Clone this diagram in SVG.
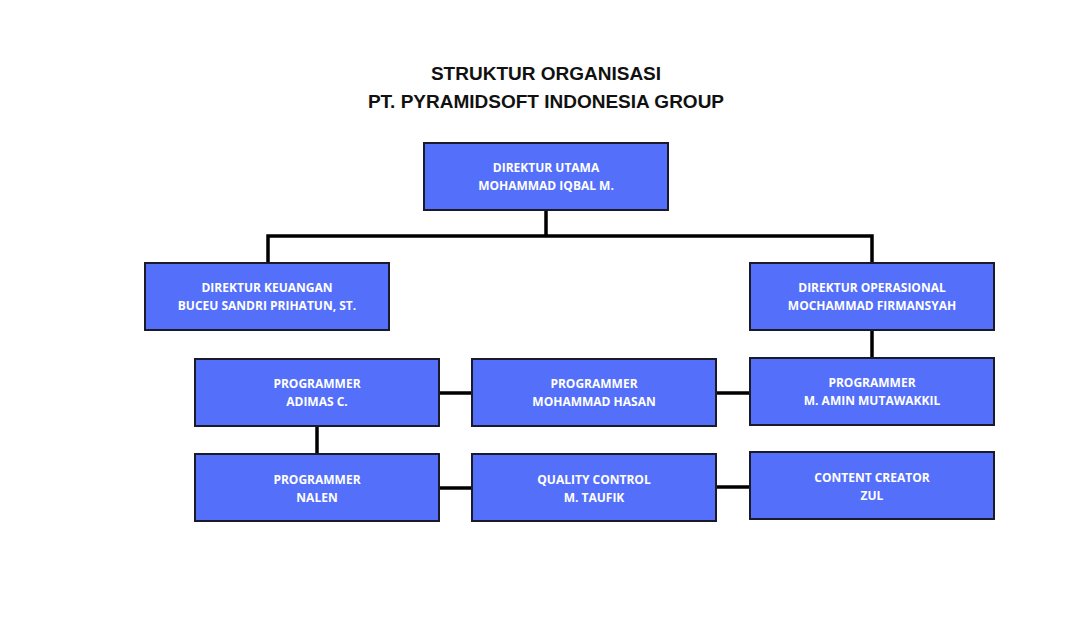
<svg xmlns="http://www.w3.org/2000/svg" width="1092" height="642" viewBox="0 0 1092 642">
<style>
.box{fill:#5470fb;stroke:#1a1a2a;stroke-width:2}
.t{font-family:"Open Sans","Liberation Sans",sans-serif;font-weight:bold;font-size:12px;fill:#fff;text-anchor:middle}
.title{font-family:"Liberation Sans",Arial,sans-serif;font-weight:bold;font-size:19px;fill:#111;text-anchor:middle}
.c{stroke:#000;stroke-width:3.5;fill:none}
</style>
<rect width="1092" height="642" fill="#fff"/>
<text class="title" x="546" y="80">STRUKTUR ORGANISASI</text>
<text class="title" x="546" y="108">PT. PYRAMIDSOFT INDONESIA GROUP</text>
<g id="connectors">
<path class="c" d="M546 210V236M268 263V236H872V263"/>
<path class="c" d="M872 330V358"/>
<path class="c" d="M317 426V454"/>
<path class="c" d="M439 393H472M716 393H750"/>
<path class="c" d="M439 488H472M716 487H750"/>
</g>
<g id="n1"><rect class="box" x="424" y="143" width="244" height="67"/><text class="t" x="546" y="172">DIREKTUR UTAMA</text><text class="t" x="546" y="190">MOHAMMAD IQBAL M.</text></g>
<g id="n2"><rect class="box" x="145" y="263" width="244" height="67"/><text class="t" x="267" y="292">DIREKTUR KEUANGAN</text><text class="t" x="267" y="310">BUCEU SANDRI PRIHATUN, ST.</text></g>
<g id="n3"><rect class="box" x="750" y="263" width="244" height="67"/><text class="t" x="872" y="292">DIREKTUR OPERASIONAL</text><text class="t" x="872" y="310">MOCHAMMAD FIRMANSYAH</text></g>
<g id="n4"><rect class="box" x="195" y="359" width="244" height="67"/><text class="t" x="317" y="388">PROGRAMMER</text><text class="t" x="317" y="406">ADIMAS C.</text></g>
<g id="n5"><rect class="box" x="472" y="359" width="244" height="67"/><text class="t" x="594" y="388">PROGRAMMER</text><text class="t" x="594" y="406">MOHAMMAD HASAN</text></g>
<g id="n6"><rect class="box" x="750" y="358" width="244" height="67"/><text class="t" x="872" y="387">PROGRAMMER</text><text class="t" x="872" y="405">M. AMIN MUTAWAKKIL</text></g>
<g id="n7"><rect class="box" x="195" y="454" width="244" height="67"/><text class="t" x="317" y="484">PROGRAMMER</text><text class="t" x="317" y="502">NALEN</text></g>
<g id="n8"><rect class="box" x="472" y="454" width="244" height="67"/><text class="t" x="594" y="484">QUALITY CONTROL</text><text class="t" x="594" y="502">M. TAUFIK</text></g>
<g id="n9"><rect class="box" x="750" y="452" width="244" height="67"/><text class="t" x="872" y="482">CONTENT CREATOR</text><text class="t" x="872" y="500">ZUL</text></g>
</svg>
